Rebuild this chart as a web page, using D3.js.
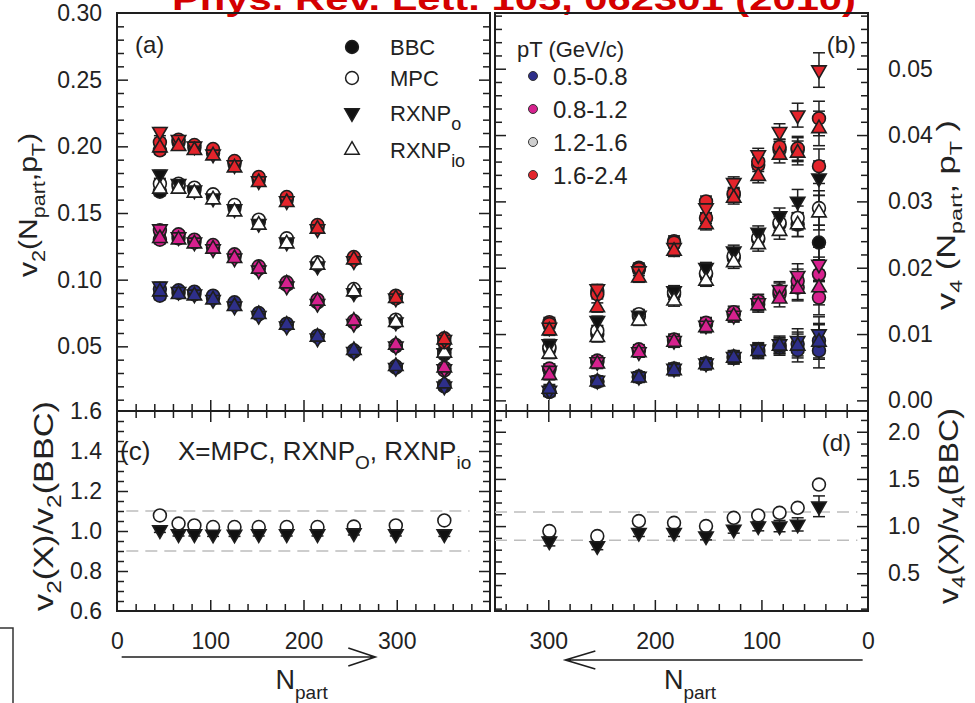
<!DOCTYPE html>
<html>
<head>
<meta charset="utf-8">
<script src="https://cdn.jsdelivr.net/npm/d3@7"></script>
<style>
  body { margin: 0; background: #fff; }
  svg { display: block; font-family: "Liberation Sans", Arial, sans-serif; }
</style>
</head>
<body>
<div id="chart"></div>
<script>
// Data
const npartV2 = [46, 66, 83, 103, 126, 152, 182, 215, 254, 299, 351]
const npartV4 = [299, 254, 215, 182, 152, 126, 103, 83, 66, 46]
const ptBins = ['0.5-0.8', '0.8-1.2', '1.2-1.6', '1.6-2.4']
const ptColors = ['#2e2f8a', '#d6218e', '#cfcfcf', '#e3242b']
const methods = ['BBC', 'MPC', 'RXNPo', 'RXNPio']

// v2 per pT bin (rows) vs Npart (npartV2)
const v2BBC = [
  [0.088, 0.090, 0.089, 0.086, 0.081, 0.074, 0.066, 0.057, 0.046, 0.034, 0.020],
  [0.130, 0.131, 0.128, 0.124, 0.117, 0.108, 0.096, 0.083, 0.068, 0.050, 0.032],
  [0.166, 0.170, 0.167, 0.162, 0.154, 0.143, 0.129, 0.111, 0.091, 0.068, 0.044],
  [0.197, 0.203, 0.199, 0.195, 0.187, 0.175, 0.160, 0.139, 0.115, 0.086, 0.053],
]
const v2MPC = [
  [0.093, 0.092, 0.091, 0.088, 0.083, 0.075, 0.067, 0.058, 0.047, 0.035, 0.021],
  [0.137, 0.134, 0.130, 0.126, 0.119, 0.110, 0.098, 0.085, 0.069, 0.051, 0.034],
  [0.172, 0.172, 0.169, 0.164, 0.156, 0.145, 0.131, 0.113, 0.093, 0.070, 0.046],
  [0.203, 0.205, 0.201, 0.198, 0.189, 0.177, 0.162, 0.141, 0.117, 0.088, 0.056],
]
const v2RXNPo = [
  [0.095, 0.091, 0.089, 0.085, 0.080, 0.073, 0.065, 0.056, 0.046, 0.034, 0.020],
  [0.138, 0.132, 0.128, 0.123, 0.116, 0.107, 0.095, 0.082, 0.067, 0.050, 0.033],
  [0.179, 0.172, 0.167, 0.161, 0.153, 0.142, 0.128, 0.110, 0.090, 0.068, 0.045],
  [0.211, 0.205, 0.200, 0.194, 0.186, 0.174, 0.159, 0.138, 0.114, 0.086, 0.055],
]
const v2RXNPio = [
  [0.091, 0.089, 0.088, 0.085, 0.080, 0.074, 0.066, 0.057, 0.047, 0.035, 0.022],
  [0.131, 0.130, 0.127, 0.123, 0.116, 0.108, 0.097, 0.084, 0.069, 0.051, 0.034],
  [0.168, 0.168, 0.165, 0.160, 0.151, 0.141, 0.127, 0.111, 0.091, 0.068, 0.045],
  [0.199, 0.200, 0.197, 0.193, 0.184, 0.173, 0.158, 0.138, 0.115, 0.086, 0.055],
]
const v2Err = [0.003, 0.0025, 0.0022, 0.002, 0.002, 0.002, 0.002, 0.002, 0.002, 0.002, 0.0025]

// v4 per pT bin (rows) vs Npart (npartV4)
const v4BBC = [
  [0.0013, 0.0028, 0.0035, 0.0047, 0.0055, 0.0064, 0.0073, 0.0080, 0.0076, 0.0075],
  [0.0047, 0.0058, 0.0075, 0.0090, 0.0115, 0.0130, 0.0145, 0.0160, 0.0170, 0.0155],
  [0.0078, 0.0100, 0.0127, 0.0160, 0.0190, 0.0215, 0.0243, 0.0265, 0.0265, 0.0238],
  [0.0118, 0.0165, 0.0200, 0.0240, 0.0275, 0.0310, 0.0355, 0.0378, 0.0378, 0.0353],
]
const v4MPC = [
  [0.0013, 0.0029, 0.0036, 0.0048, 0.0056, 0.0066, 0.0076, 0.0083, 0.0085, 0.0090],
  [0.0048, 0.0060, 0.0077, 0.0092, 0.0117, 0.0133, 0.0150, 0.0165, 0.0180, 0.0190],
  [0.0080, 0.0105, 0.0130, 0.0163, 0.0192, 0.0218, 0.0245, 0.0268, 0.0275, 0.0290],
  [0.0115, 0.0160, 0.0198, 0.0238, 0.0300, 0.0312, 0.0360, 0.0382, 0.0380, 0.0425],
]
const v4RXNPo = [
  [0.0015, 0.0030, 0.0036, 0.0048, 0.0056, 0.0066, 0.0077, 0.0085, 0.0090, 0.0100],
  [0.0045, 0.0058, 0.0073, 0.0090, 0.0113, 0.0128, 0.0147, 0.0167, 0.0188, 0.0205],
  [0.0085, 0.0120, 0.0128, 0.0165, 0.0200, 0.0225, 0.0253, 0.0278, 0.0300, 0.0335],
  [0.0110, 0.0168, 0.0195, 0.0230, 0.0290, 0.0328, 0.0370, 0.0405, 0.0430, 0.0498],
]
const v4RXNPio = [
  [0.0017, 0.0028, 0.0034, 0.0045, 0.0054, 0.0064, 0.0074, 0.0082, 0.0082, 0.0088],
  [0.0038, 0.0055, 0.0072, 0.0088, 0.0110, 0.0127, 0.0143, 0.0153, 0.0168, 0.0170],
  [0.0070, 0.0095, 0.0120, 0.0150, 0.0180, 0.0208, 0.0235, 0.0255, 0.0265, 0.0283],
  [0.0105, 0.0140, 0.0185, 0.0225, 0.0265, 0.0305, 0.0338, 0.0370, 0.0373, 0.0410],
]
const v4Err = [0.0007, 0.0007, 0.0007, 0.0008, 0.0008, 0.0009, 0.001, 0.0012, 0.0018, 0.0026]

// ratios to BBC
const r2MPC = [1.078, 1.037, 1.028, 1.020, 1.020, 1.020, 1.020, 1.020, 1.022, 1.028, 1.053]
const r2RXNPo = [1.005, 0.985, 0.985, 0.983, 0.983, 0.985, 0.985, 0.985, 0.990, 0.985, 0.985]
const r2Err = [0.012, 0.01, 0.01, 0.01, 0.01, 0.01, 0.01, 0.01, 0.01, 0.01, 0.012]
const r4MPC = [0.947, 0.894, 1.053, 1.035, 1.000, 1.088, 1.113, 1.141, 1.194, 1.440]
const r4RXNPo = [0.840, 0.790, 0.930, 0.930, 0.894, 0.965, 1.000, 1.000, 1.018, 1.210]
const r4Err = [0.05, 0.04, 0.04, 0.04, 0.04, 0.04, 0.05, 0.06, 0.07, 0.11]
const r2Band = [0.9, 1.1]
const r4Band = [0.85, 1.15]

const xLabelsL = [0, 100, 200, 300]
const xLabelsR = [300, 200, 100, 0]
const yLabelsA = [0.05, 0.10, 0.15, 0.20, 0.25, 0.30]
const yLabelsB = [0.00, 0.01, 0.02, 0.03, 0.04, 0.05]
const yLabelsC = [0.6, 0.8, 1.0, 1.2, 1.4, 1.6]
const yLabelsD = [0.5, 1.0, 1.5, 2.0]

// Dimensions
const width = 975
const height = 703
const ink = '#1e1e1e'

const svg = d3.select('#chart')
  .append('svg')
  .attr('width', width)
  .attr('height', height)

// Scales
const xL = d3.scaleLinear().domain([0, 400]).range([117, 490])
const xR = d3.scaleLinear().domain([350, 0]).range([495, 868])
const yA = d3.scaleLinear().domain([0.0015, 0.30]).range([411, 13])
const yB = d3.scaleLinear().domain([-0.0016, 0.0584]).range([411, 13])
const yC = d3.scaleLinear().domain([0.6, 1.6]).range([611, 411])
const yD = d3.scaleLinear().domain([0.1, 2.22]).range([611, 411])

// Title (cut at top edge)
svg.append('text')
  .attr('x', 172).attr('y', 10)
  .attr('fill', '#d40000')
  .attr('font-size', 32).attr('font-weight', 'bold')
  .attr('textLength', 684).attr('lengthAdjust', 'spacingAndGlyphs')
  .text('Phys. Rev. Lett. 105, 062301 (2010)')

// stray frame bottom-left
svg.append('path')
  .attr('d', 'M0,628H13V703')
  .attr('fill', 'none').attr('stroke', '#333').attr('stroke-width', 1.5)

// Ticks
const axisFns = { left: d3.axisLeft, right: d3.axisRight, top: d3.axisTop, bottom: d3.axisBottom }
function inTicks(orient, scale, at, values, len) {
  const horiz = orient === 'top' || orient === 'bottom'
  svg.append('g')
    .attr('transform', horiz ? `translate(0,${at})` : `translate(${at},0)`)
    .call(axisFns[orient](scale).tickValues(values).tickSize(-len).tickFormat(''))
    .call(g => g.select('.domain').remove())
    .selectAll('line')
    .attr('stroke', ink)
    .attr('stroke-width', 1.5)
}
function tickPair(orient, scale, at, minor, major) {
  inTicks(orient, scale, at, minor, 7)
  inTicks(orient, scale, at, major, 11)
}
function labels(orient, scale, at, values, fmt, pad) {
  const horiz = orient === 'top' || orient === 'bottom'
  svg.append('g')
    .attr('transform', horiz ? `translate(0,${at})` : `translate(${at},0)`)
    .call(axisFns[orient](scale).tickValues(values).tickSize(0).tickPadding(pad).tickFormat(fmt))
    .call(g => g.select('.domain').remove())
    .call(g => g.selectAll('line').remove())
    .selectAll('text')
    .attr('fill', '#222')
    .attr('font-size', 23)
    .attr('font-family', '"Liberation Sans", Arial, sans-serif')
}

const xMinorL = d3.range(20, 400, 20).filter(d => d % 100)
const xMajorL = [100, 200, 300]
const xMinorR = d3.range(20, 350, 20).filter(d => d % 100)
const xMajorR = [100, 200, 300]
const yMinorA = d3.range(1, 30).filter(d => d % 5).map(d => d / 100)
const yMajorA = [0.05, 0.10, 0.15, 0.20, 0.25]
const yMinorB = d3.range(0, 30).filter(d => d % 5).map(d => d * 0.002)
const yMajorB = [0, 0.01, 0.02, 0.03, 0.04, 0.05]
const yMinorC = d3.range(13, 32).filter(d => d % 4).map(d => d * 0.05)
const yMajorC = [0.8, 1.0, 1.2, 1.4]
const yMinorD = d3.range(1, 18).filter(d => d % 4).map(d => d * 0.125)
const yMajorD = [0.5, 1.0, 1.5, 2.0]

// panel (a)
tickPair('left', yA, 117, yMinorA, yMajorA)
tickPair('right', yA, 490, yMinorA, yMajorA)
tickPair('bottom', xL, 411, xMinorL, xMajorL)
// panel (c)
tickPair('top', xL, 411, xMinorL, xMajorL)
tickPair('bottom', xL, 611, xMinorL, xMajorL)
tickPair('left', yC, 117, yMinorC, yMajorC)
tickPair('right', yC, 490, yMinorC, yMajorC)
// panel (b)
tickPair('left', yB, 495, yMinorB, yMajorB)
tickPair('right', yB, 868, yMinorB, yMajorB)
tickPair('bottom', xR, 411, xMinorR, xMajorR)
// panel (d)
tickPair('top', xR, 411, xMinorR, xMajorR)
tickPair('bottom', xR, 611, xMinorR, xMajorR)
tickPair('left', yD, 495, yMinorD, yMajorD)
tickPair('right', yD, 868, yMinorD, yMajorD)

// Frames
const frames = [
  [xL(0), yA.range()[1], xL(400), yA.range()[0]],
  [xL(0), yC.range()[1], xL(400), yC.range()[0]],
  [xR(350), yB.range()[1], xR(0), yB.range()[0]],
  [xR(350), yD.range()[1], xR(0), yD.range()[0]],
]
svg.append('g').selectAll('rect')
  .data(frames)
  .join('rect')
  .attr('x', d => d[0]).attr('y', d => d[1])
  .attr('width', d => d[2] - d[0]).attr('height', d => d[3] - d[1])
  .attr('fill', 'none').attr('stroke', ink).attr('stroke-width', 2)

// Tick labels
labels('left', yA, 117, yLabelsA, d3.format('.2f'), 15)
labels('left', yC, 117, yLabelsC, d3.format('.1f'), 15)
labels('right', yB, 868, yLabelsB, d3.format('.2f'), 20)
labels('right', yD, 868, yLabelsD, d3.format('.1f'), 20)
labels('bottom', xL, 611, xLabelsL, d3.format('d'), 22)
labels('bottom', xR, 611, xLabelsR, d3.format('d'), 22)

// Dashed reference lines
svg.append('g').selectAll('line')
  .data(r2Band)
  .join('line')
  .attr('x1', xL(10)).attr('x2', xL(378))
  .attr('y1', d => yC(d)).attr('y2', d => yC(d))
  .attr('stroke', '#bdbdbd').attr('stroke-width', 1.6).attr('stroke-dasharray', '12,7')
svg.append('g').selectAll('line')
  .data(r4Band)
  .join('line')
  .attr('x1', xR(350)).attr('x2', xR(10))
  .attr('y1', d => yD(d)).attr('y2', d => yD(d))
  .attr('stroke', '#bdbdbd').attr('stroke-width', 1.6).attr('stroke-dasharray', '12,7')

// Markers
const symPath = {
  BBC: d3.symbol(d3.symbolCircle, 130)(),
  MPC: d3.symbol(d3.symbolCircle, 130)(),
  RXNPo: d3.symbol(d3.symbolTriangle, 90)(),
  RXNPio: d3.symbol(d3.symbolTriangle, 90)(),
}
const symRot = { BBC: 0, MPC: 0, RXNPo: 180, RXNPio: 0 }
const openMethod = { BBC: false, MPC: true, RXNPo: false, RXNPio: true }
function fillFor(bin, m) {
  if (bin === 2) return openMethod[m] ? '#fff' : '#111'
  return ptColors[bin]
}

function buildPoints(tables, npart, err, xs, ys) {
  const pts = []
  ptBins.forEach((b, bi) => {
    methods.forEach((m, mi) => {
      tables[mi][bi].forEach((v, i) => {
        pts.push({ bin: bi, m, x: xs(npart[i]), y: ys(v), lo: ys(v - err[i]), hi: ys(v + err[i]) })
      })
    })
  })
  return pts
}

function drawErrors(pts) {
  const g = svg.append('g').attr('stroke', ink).attr('stroke-width', 1.5)
  g.selectAll('line.v').data(pts).join('line').attr('class', 'v')
    .attr('x1', d => d.x).attr('x2', d => d.x).attr('y1', d => d.lo).attr('y2', d => d.hi)
  g.selectAll('line.t').data(pts).join('line').attr('class', 't')
    .attr('x1', d => d.x - 6).attr('x2', d => d.x + 6).attr('y1', d => d.hi).attr('y2', d => d.hi)
  g.selectAll('line.b').data(pts).join('line').attr('class', 'b')
    .attr('x1', d => d.x - 6).attr('x2', d => d.x + 6).attr('y1', d => d.lo).attr('y2', d => d.lo)
}

function drawMarkers(pts, fill) {
  svg.append('g').selectAll('path')
    .data(pts)
    .join('path')
    .attr('d', d => symPath[d.m])
    .attr('transform', d => `translate(${d.x},${d.y}) rotate(${symRot[d.m]})`)
    .attr('fill', fill)
    .attr('stroke', ink)
    .attr('stroke-width', 1.6)
}

// panel (a)
const ptsA = buildPoints([v2BBC, v2MPC, v2RXNPo, v2RXNPio], npartV2, v2Err, xL, yA)
drawErrors(ptsA)
drawMarkers(ptsA, d => fillFor(d.bin, d.m))

// panel (b)
const ptsB = buildPoints([v4BBC, v4MPC, v4RXNPo, v4RXNPio], npartV4, v4Err, xR, yB)
drawErrors(ptsB)
drawMarkers(ptsB, d => fillFor(d.bin, d.m))

// panel (c) and (d) ratios
function ratioPoints(vals, m, npart, err, xs, ys) {
  return vals.map((v, i) => ({ m, x: xs(npart[i]), y: ys(v), lo: ys(v - err[i]), hi: ys(v + err[i]) }))
}
const ptsC = [
  ...ratioPoints(r2MPC, 'MPC', npartV2, r2Err, xL, yC),
  ...ratioPoints(r2RXNPo, 'RXNPo', npartV2, r2Err, xL, yC),
]
drawErrors(ptsC.filter(d => d.m === 'RXNPo'))
drawMarkers(ptsC, d => openMethod[d.m] ? '#fff' : '#111')

const ptsD = [
  ...ratioPoints(r4MPC, 'MPC', npartV4, r4Err, xR, yD),
  ...ratioPoints(r4RXNPo, 'RXNPo', npartV4, r4Err, xR, yD),
]
drawErrors(ptsD.filter(d => d.m === 'RXNPo'))
drawMarkers(ptsD, d => openMethod[d.m] ? '#fff' : '#111')

// Rich text helper (subscripts)
function rich(text, parts, subSize, shift) {
  let cur = 0
  parts.forEach(([t, sub]) => {
    const s = text.append('tspan').text(t)
    if (sub) {
      s.attr('font-size', subSize).attr('dy', shift - cur)
      cur = shift
    } else {
      s.attr('dy', -cur)
      cur = 0
    }
  })
  return text
}

// Legend (a)
const legA = svg.append('g')
const legAY = [47, 78, 113, 150]
const legALabels = [[['BBC', 0]], [['MPC', 0]], [['RXNP', 0], ['o', 1]], [['RXNP', 0], ['io', 1]]]
methods.forEach((m, i) => {
  legA.append('path')
    .attr('d', symPath[m])
    .attr('transform', `translate(352,${legAY[i]}) rotate(${symRot[m]})`)
    .attr('fill', openMethod[m] ? '#fff' : '#111')
    .attr('stroke', ink).attr('stroke-width', 1.5)
  rich(legA.append('text').attr('x', 390).attr('y', legAY[i] + 8)
    .attr('font-size', 22).attr('fill', '#222'), legALabels[i], 18, 9)
})

// Legend (b)
const legB = svg.append('g')
legB.append('text').attr('x', 517).attr('y', 57).attr('font-size', 22).attr('fill', '#222')
  .text('pT (GeV/c)')
const legBY = [76, 109, 142, 175]
ptBins.forEach((b, i) => {
  legB.append('circle').attr('cx', 533).attr('cy', legBY[i]).attr('r', 4.5)
    .attr('fill', ptColors[i]).attr('stroke', '#333').attr('stroke-width', 1)
  legB.append('text').attr('x', 553).attr('y', legBY[i] + 8.5)
    .attr('font-size', 24).attr('fill', '#222').text(b)
})

// Panel letters
svg.append('text').attr('x', 135).attr('y', 53).attr('font-size', 24).attr('fill', '#222').text('(a)')
svg.append('text').attr('x', 856).attr('y', 53).attr('font-size', 24).attr('fill', '#222')
  .attr('text-anchor', 'end').text('(b)')
svg.append('text').attr('x', 120).attr('y', 460).attr('font-size', 26).attr('fill', '#222').text('(c)')
rich(svg.append('text').attr('x', 178).attr('y', 460).attr('font-size', 26).attr('fill', '#222'),
  [['X=MPC, RXNP', 0], ['O', 1], [', RXNP', 0], ['io', 1]], 19, 9)
svg.append('text').attr('x', 851).attr('y', 451).attr('font-size', 24).attr('fill', '#222')
  .attr('text-anchor', 'end').text('(d)')

// Axis titles
function vTitle(x, y, parts, size, subSize, shift, len) {
  const t = svg.append('text')
    .attr('transform', `translate(${x},${y}) rotate(-90)`)
    .attr('text-anchor', 'middle')
    .attr('font-size', size).attr('fill', '#222')
  rich(t, parts, subSize, shift)
  if (len) t.attr('textLength', len).attr('lengthAdjust', 'spacingAndGlyphs')
}
vTitle(37, 205, [['v', 0], ['2', 1], ['(N', 0], ['part', 1], [',p', 0], ['T', 1], [')', 0]], 25, 18, 8, 144)
vTitle(53, 506, [['v', 0], ['2', 1], ['(X)/v', 0], ['2', 1], ['(BBC)', 0]], 28, 20, 8, 210)
vTitle(955, 215, [['v', 0], ['4', 1], [' (N', 0], ['part', 1], [', p', 0], ['T', 1], [' )', 0]], 25, 17, 7, 190)
vTitle(958, 506, [['v', 0], ['4', 1], ['(X)/v', 0], ['4', 1], ['(BBC)', 0]], 28, 19, 7, 196)

// Npart arrows
function arrow(x1, x2, y, head) {
  const dir = Math.sign(x2 - x1)
  svg.append('path')
    .attr('d', `M${x1},${y}H${x2}M${x2 - dir * head},${y - 9}L${x2},${y}L${x2 - dir * head},${y + 9}`)
    .attr('fill', 'none').attr('stroke', ink).attr('stroke-width', 1.6)
}
arrow(xL(5), xL(277), 657, 27)
arrow(xR(5), xR(284), 660, 30)

rich(svg.append('text').attr('x', xL(198)).attr('y', 689).attr('text-anchor', 'middle')
  .attr('font-size', 27).attr('fill', '#222'), [['N', 0], ['part', 1]], 19, 10)
rich(svg.append('text').attr('x', xR(167)).attr('y', 689).attr('text-anchor', 'middle')
  .attr('font-size', 27).attr('fill', '#222'), [['N', 0], ['part', 1]], 19, 10)
</script>
</body>
</html>
